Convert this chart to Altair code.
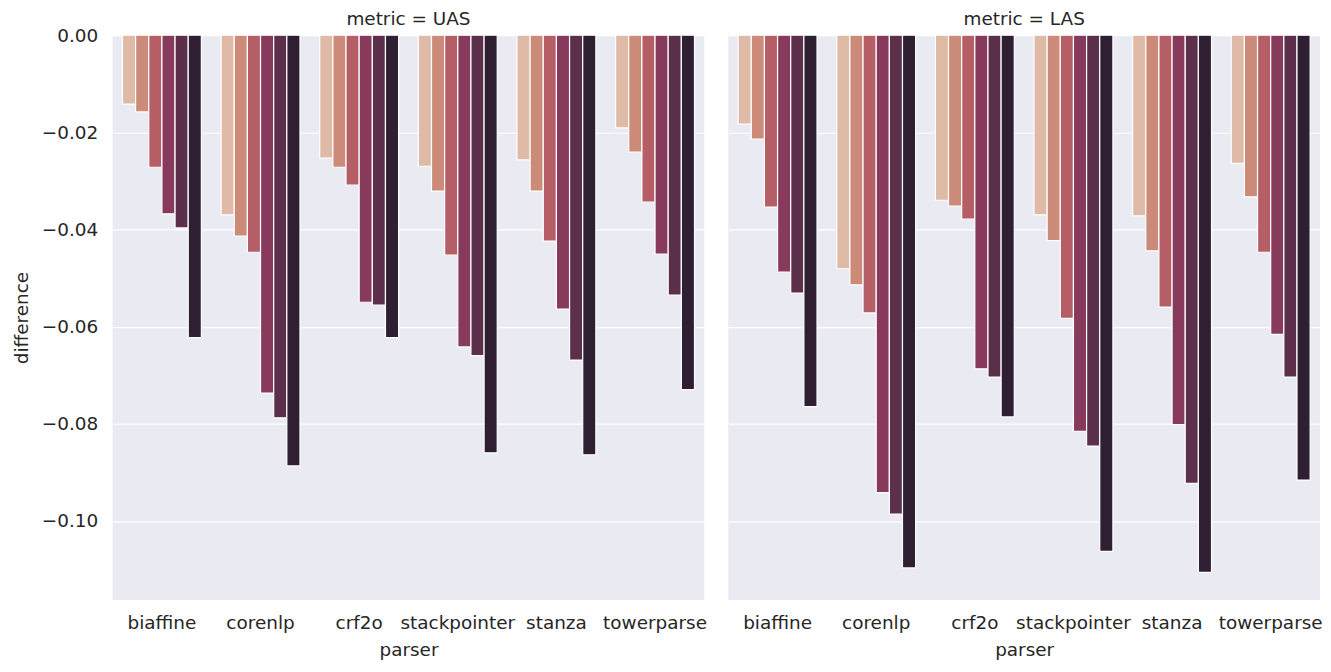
import altair as alt
import pandas as pd

parsers = ["biaffine", "corenlp", "crf2o", "stackpointer", "stanza", "towerparse"]
metrics = ["UAS", "LAS"]
levels = ["1", "2", "3", "4", "5", "6"]
palette = ["#dfbaa6", "#cc8a78", "#b65e66", "#883a5d", "#5c2f4b", "#2f1f33"]

uas_biaffine = [-0.0142, -0.0158, -0.0272, -0.0368, -0.0397, -0.0623]
uas_corenlp = [-0.0370, -0.0414, -0.0447, -0.0737, -0.0788, -0.0887]
uas_crf2o = [-0.0253, -0.0272, -0.0309, -0.0550, -0.0556, -0.0623]
uas_stackpointer = [-0.0270, -0.0321, -0.0453, -0.0642, -0.0660, -0.0860]
uas_stanza = [-0.0257, -0.0321, -0.0424, -0.0564, -0.0669, -0.0864]
uas_towerparse = [-0.0191, -0.0241, -0.0344, -0.0451, -0.0535, -0.0730]

las_biaffine = [-0.0183, -0.0214, -0.0354, -0.0488, -0.0531, -0.0765]
las_corenlp = [-0.0481, -0.0514, -0.0572, -0.0942, -0.0986, -0.1097]
las_crf2o = [-0.0340, -0.0352, -0.0379, -0.0687, -0.0704, -0.0786]
las_stackpointer = [-0.0370, -0.0423, -0.0583, -0.0816, -0.0846, -0.1063]
las_stanza = [-0.0372, -0.0444, -0.0560, -0.0802, -0.0923, -0.1106]
las_towerparse = [-0.0264, -0.0333, -0.0447, -0.0616, -0.0704, -0.0916]

y_ticks = [0.0, -0.02, -0.04, -0.06, -0.08, -0.10]

series = {
    "UAS": [uas_biaffine, uas_corenlp, uas_crf2o, uas_stackpointer, uas_stanza, uas_towerparse],
    "LAS": [las_biaffine, las_corenlp, las_crf2o, las_stackpointer, las_stanza, las_towerparse],
}

rows = []
for m in metrics:
    for p, vals in zip(parsers, series[m]):
        for lv, v in zip(levels, vals):
            rows.append({"metric": m, "parser": p, "level": lv, "difference": v})
df = pd.DataFrame(rows)

FONT = "DejaVu Sans"
TXT = "#262626"
FS = 18.5

base = alt.Chart(df).mark_bar(stroke="white", strokeWidth=1.2).encode(
    x=alt.X("parser:N", sort=parsers,
            scale=alt.Scale(paddingInner=0.2, paddingOuter=0.1),
            axis=alt.Axis(title="parser", labelAngle=0)),
    xOffset=alt.XOffset("level:N", sort=levels,
                        scale=alt.Scale(paddingInner=0, paddingOuter=0)),
    y=alt.Y("difference:Q",
            scale=alt.Scale(domain=[-0.1163, 0], nice=False, zero=False),
            axis=alt.Axis(title="difference", values=y_ticks, format=".2f")),
    color=alt.Color("level:N", scale=alt.Scale(domain=levels, range=palette), legend=None),
).properties(width=594, height=567)

chart = base.facet(
    column=alt.Column("metric:N", sort=metrics,
                      header=alt.Header(title=None,
                                        labelExpr="'metric = ' + datum.value",
                                        labelFontSize=FS, labelFont=FONT,
                                        labelColor=TXT, labelPadding=6)),
    spacing=24,
).configure_view(
    fill="#EAEAF2", stroke=None
).configure_axis(
    labelFont=FONT, titleFont=FONT, labelFontSize=FS, titleFontSize=FS,
    labelColor=TXT, titleColor=TXT, titleFontWeight="normal",
    domain=False, ticks=False,
    grid=True, gridColor="white", gridWidth=1.2,
).configure_axisX(
    grid=False, labelPadding=14, titlePadding=8,
).configure_axisY(
    labelPadding=15, titlePadding=10,
).properties(
    padding={"left": 4, "top": 0, "right": 0, "bottom": 2}
)

chart.save("out.html", embed_options={"renderer": "svg", "actions": False})
